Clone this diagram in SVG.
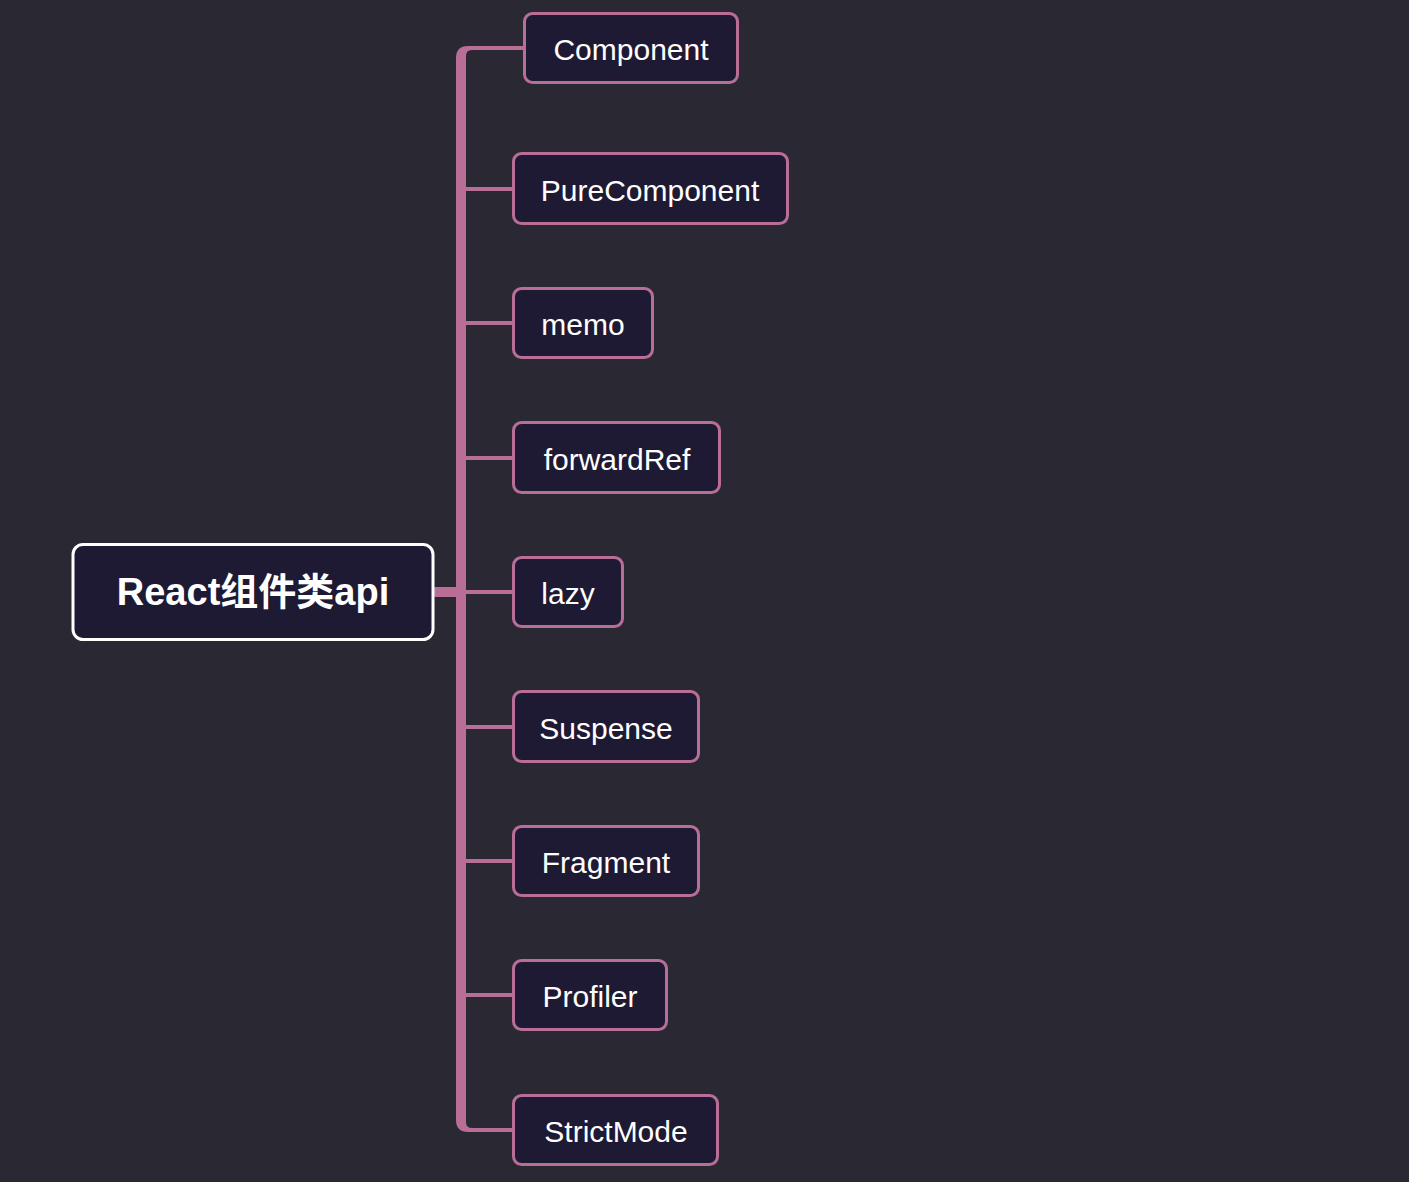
<svg xmlns="http://www.w3.org/2000/svg" width="1409" height="1182" viewBox="0 0 1409 1182">
<style>
.bg{fill:#2a2832}
.node rect{fill:#1f1a33;stroke:#b86e96;stroke-width:3}
.node text{fill:#ffffff;font-family:"Liberation Sans","Noto Sans CJK SC",sans-serif;font-size:30px;text-anchor:middle;dominant-baseline:central}
#root rect{stroke:#ffffff;stroke-width:3}
#root text{font-size:38px;font-weight:bold}
.conn{fill:none;stroke:#b86e96;stroke-linecap:butt}
.trunk{fill:#b86e96;stroke:none}
</style>
<rect class="bg" x="0" y="0" width="1409" height="1182"/>
<g id="connectors">
<path class="conn" stroke-width="10" d="M433 592H457"/>
<path class="trunk" d="M524 46H468Q456 46 456 58V1120Q456 1132 468 1132H513V1128H472Q466 1128 466 1122V56Q466 50 472 50H524Z"/>
<path class="conn" stroke-width="4" d="M465 189H513M465 323H513M465 458H513M465 592H513M465 727H513M465 861H513M465 995H513"/>
</g>
<g id="root" class="node"><rect x="73" y="544.5" width="360" height="95" rx="10"/><text x="253" y="592">React组件类api</text></g>
<g id="n-component" class="node"><rect x="524.5" y="13.5" width="213" height="69" rx="8"/><text x="631" y="49">Component</text></g>
<g id="n-purecomponent" class="node"><rect x="513.5" y="153.5" width="274" height="70" rx="8"/><text x="650" y="190">PureComponent</text></g>
<g id="n-memo" class="node"><rect x="513.5" y="288.5" width="139" height="69" rx="8"/><text x="583" y="324">memo</text></g>
<g id="n-forwardref" class="node"><rect x="513.5" y="422.5" width="206" height="70" rx="8"/><text x="617" y="459">forwardRef</text></g>
<g id="n-lazy" class="node"><rect x="513.5" y="557.5" width="109" height="69" rx="8"/><text x="568" y="593">lazy</text></g>
<g id="n-suspense" class="node"><rect x="513.5" y="691.5" width="185" height="70" rx="8"/><text x="606" y="728">Suspense</text></g>
<g id="n-fragment" class="node"><rect x="513.5" y="826.5" width="185" height="69" rx="8"/><text x="606" y="862">Fragment</text></g>
<g id="n-profiler" class="node"><rect x="513.5" y="960.5" width="153" height="69" rx="8"/><text x="590" y="996">Profiler</text></g>
<g id="n-strictmode" class="node"><rect x="513.5" y="1095.5" width="204" height="69" rx="8"/><text x="616" y="1131">StrictMode</text></g>
</svg>
